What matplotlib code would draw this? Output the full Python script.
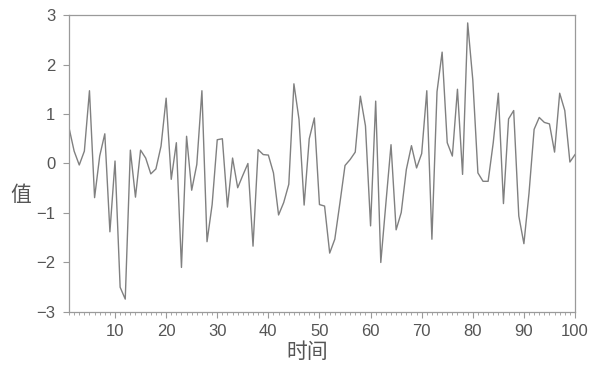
import matplotlib
matplotlib.use("Agg")
import matplotlib.pyplot as plt
from matplotlib.ticker import MultipleLocator

# time index and observed values
t = list(range(1, 101))
values = [
    0.72, 0.25, -0.03, 0.25, 1.47, -0.69, 0.15, 0.60, -1.38, 0.05,
    -2.50, -2.74, 0.27, -0.68, 0.27, 0.11, -0.21, -0.11, 0.35, 1.32,
    -0.32, 0.42, -2.10, 0.55, -0.54, -0.02, 1.47, -1.58, -0.83, 0.48,
    0.50, -0.88, 0.11, -0.49, -0.24, 0.00, -1.67, 0.28, 0.18, 0.17,
    -0.19, -1.04, -0.79, -0.42, 1.61, 0.89, -0.84, 0.50, 0.92, -0.83,
    -0.86, -1.81, -1.53, -0.80, -0.04, 0.08, 0.23, 1.36, 0.76, -1.26,
    1.26, -2.00, -0.80, 0.38, -1.34, -0.99, -0.12, 0.36, -0.09, 0.20,
    1.47, -1.53, 1.45, 2.25, 0.42, 0.15, 1.50, -0.22, 2.84, 1.69,
    -0.19, -0.36, -0.36, 0.42, 1.42, -0.81, 0.90, 1.07, -1.06, -1.62,
    -0.60, 0.69, 0.93, 0.83, 0.80, 0.23, 1.42, 1.07, 0.03, 0.18,
]
x_ticks = [10, 20, 30, 40, 50, 60, 70, 80, 90, 100]
y_ticks = [-3, -2, -1, 0, 1, 2, 3]

gray = "#808080"
text_gray = "#555555"

fig = plt.figure(figsize=(5.92, 3.8), dpi=100)
ax = fig.add_axes([0.1166, 0.179, 0.8547, 0.7815])
ax.plot(t, values, color=gray, lw=1.0)

ax.set_xlim(1, 100)
ax.set_ylim(-3, 3)
ax.set_xticks(x_ticks)
ax.set_yticks(y_ticks)
ax.xaxis.set_minor_locator(MultipleLocator(1))

for s in ax.spines.values():
    s.set_color("#9a9a9a")
    s.set_linewidth(0.9)

ax.tick_params(axis="both", which="major", direction="out", length=4,
               width=0.8, color="#9a9a9a", labelsize=12, labelcolor=text_gray)
ax.tick_params(axis="x", which="major", pad=5)
ax.tick_params(axis="y", which="major", pad=6)
ax.tick_params(axis="x", which="minor", direction="out", length=2.5,
               width=0.6, color="#9a9a9a")
for lab in ax.get_xticklabels() + ax.get_yticklabels():
    lab.set_family(["Liberation Sans", "DejaVu Sans"])

cjk = ["Noto Sans CJK SC", "DejaVu Sans"]
fig.text(0.035, 0.487, "值", fontsize=15, color=text_gray, family=cjk,
         ha="center", va="center", fontweight="light")
fig.text(0.519, 0.073, "时间", fontsize=15, color=text_gray, family=cjk,
         ha="center", va="center", fontweight="light")

fig.savefig("out.png", dpi=100)
